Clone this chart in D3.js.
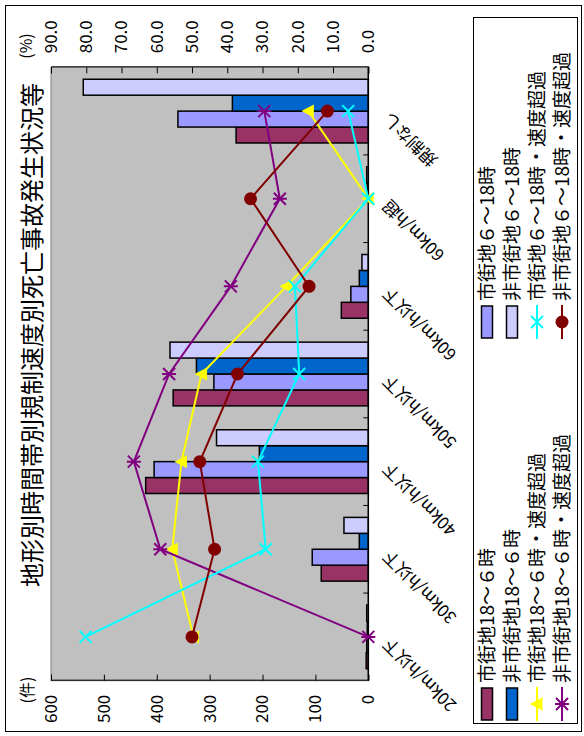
<!DOCTYPE html>
<html>
<head>
<meta charset="utf-8">
<title></title>
<style>
body { margin: 0; background: #fff; }
text { font-family: "Noto Sans CJK JP", "Noto Sans", sans-serif; fill: #000; }
</style>
</head>
<body>
<script type="text/javascript" src="https://d3js.org/d3.v7.min.js"></script>
<script>

var categories = ["20km/h以下", "30km/h以下", "40km/h以下", "50km/h以下", "60km/h以下", "60km/h超", "規制なし"];

// bar series (件)
var barNames = ["市街地18～６時", "市街地６～18時", "非市街地18～６時", "非市街地６～18時"];
var urbanNight   = [4, 89, 421, 369, 51, 0, 250];
var urbanDay     = [3, 106, 405, 292, 33, 0, 360];
var ruralNight   = [2, 17, 206, 325, 17, 2, 257];
var ruralDay     = [3, 46, 287, 375, 12, 3, 539];

// line series (%)
var lineNames = ["市街地18～６時・速度超過", "非市街地18～６時・速度超過", "市街地６～18時・速度超過", "非市街地６～18時・速度超過"];
var urbanNightSpd = [49.6, 55.6, 53.0, 47.3, 23.2, 0, 17.0];
var ruralNightSpd = [0, 59.0, 66.5, 56.5, 39.0, 25.1, 29.5];
var urbanDaySpd   = [80.2, 29.1, 31.3, 19.6, 20.8, 0, 5.7];
var ruralDaySpd   = [50.0, 43.6, 47.8, 37.1, 16.8, 33.4, 11.6];

var countTicks = [0, 100, 200, 300, 400, 500, 600];
var pctTicks = [0, 10, 20, 30, 40, 50, 60, 70, 80, 90];

var title = "地形別時間帯別規制速度別死亡事故発生状況等";

var barColors = ["#993366", "#9999ff", "#0066cc", "#ccccff"];
var lineColors = ["#ffff00", "#800080", "#00ffff", "#800000"];
var lineMarkers = ["triangle", "star", "cross", "circle"];

// chart is drawn landscape and turned a quarter to the left
var plotL = 55.3, plotR = 668.7, plotT = 51, plotB = 368.3;

var svg = d3.select("body").append("svg")
    .attr("width", 584)
    .attr("height", 736);

var g = svg.append("g")
    .attr("transform", "translate(0,736) rotate(-90)");

g.append("rect")
    .attr("x", 4.5).attr("y", 5.5)
    .attr("width", 726).attr("height", 576)
    .attr("fill", "#fff")
    .attr("stroke", "#000");

var x = d3.scaleBand()
    .domain(categories)
    .range([plotL, plotR]);

var x1 = d3.scaleBand()
    .domain(barNames)
    .range([0, x.bandwidth()])
    .paddingOuter(0.75);

var yL = d3.scaleLinear().domain([0, 600]).range([plotB, plotT]);
var yR = d3.scaleLinear().domain([0, 90]).range([plotB, plotT]);

g.append("rect")
    .attr("x", plotL).attr("y", plotT)
    .attr("width", plotR - plotL).attr("height", plotB - plotT)
    .attr("fill", "#c0c0c0")
    .attr("stroke", "#808080");

// bars (zero values drawn as nothing)
var barData = [urbanNight, urbanDay, ruralNight, ruralDay];
barData.forEach(function(vals, si) {
  var pts = vals.map(function(v, i) { return {cat: categories[i], v: v}; })
      .filter(function(d) { return d.v > 0; });
  g.append("g").selectAll("rect")
    .data(pts)
    .enter().append("rect")
    .attr("x", function(d) { return x(d.cat) + x1(barNames[si]); })
    .attr("y", function(d) { return yL(d.v); })
    .attr("width", x1.bandwidth())
    .attr("height", function(d) { return plotB - yL(d.v); })
    .attr("fill", barColors[si])
    .attr("stroke", "#000")
    .attr("stroke-width", 1.5);
});

// axes
var axisL = g.append("g")
    .attr("transform", "translate(" + plotL + ",0)")
    .call(d3.axisLeft(yL).tickValues(countTicks).tickSize(-6).tickPadding(14));

var axisR = g.append("g")
    .attr("transform", "translate(" + plotR + ",0)")
    .call(d3.axisRight(yR).tickValues(pctTicks).tickSize(-6).tickPadding(14)
      .tickFormat(d3.format(".1f")));

[axisL, axisR].forEach(function(a) {
  a.select(".domain").attr("stroke", "#000");
  a.selectAll("text")
    .style("font-family", "'Noto Sans CJK JP', sans-serif")
    .style("font-size", "17px");
});

// category axis
g.append("line")
    .attr("x1", plotL).attr("x2", plotR)
    .attr("y1", plotB).attr("y2", plotB)
    .attr("stroke", "#000")
    .attr("stroke-width", 1.5);

g.append("g").selectAll("line")
    .data(categories.slice(1))
    .enter().append("line")
    .attr("x1", function(d) { return x(d); })
    .attr("x2", function(d) { return x(d); })
    .attr("y1", plotB)
    .attr("y2", plotB - 5)
    .attr("stroke", "#000");

g.append("g").selectAll("text")
    .data(categories)
    .enter().append("text")
    .attr("transform", function(d) {
      return "translate(" + (x(d) + x.bandwidth() / 2) + "," + (plotB + 22) + ") rotate(-45)";
    })
    .attr("text-anchor", "end")
    .style("font-size", "17px")
    .text(function(d) { return d; });

// lines
function marker(sel, type, color) {
  if (type == "circle") {
    sel.append("circle").attr("r", 6.5).attr("fill", color);
  } else if (type == "triangle") {
    sel.append("path").attr("d", "M0,-7L6.5,5.5L-6.5,5.5Z").attr("fill", color);
  } else if (type == "cross") {
    sel.append("path").attr("d", "M-6,-6L6,6M-6,6L6,-6")
      .attr("stroke", color).attr("stroke-width", 2).attr("fill", "none");
  } else {
    sel.append("path").attr("d", "M-6,-6L6,6M-6,6L6,-6M0,-7L0,7")
      .attr("stroke", color).attr("stroke-width", 2).attr("fill", "none");
  }
}

var lineData = [urbanNightSpd, ruralNightSpd, urbanDaySpd, ruralDaySpd];
var line = d3.line()
    .x(function(d, i) { return x(categories[i]) + x.bandwidth() / 2; })
    .y(function(d) { return yR(d); });

lineData.forEach(function(vals, si) {
  g.append("path")
    .attr("d", line(vals))
    .attr("fill", "none")
    .attr("stroke", lineColors[si])
    .attr("stroke-width", 2);
  g.append("g").selectAll("g")
    .data(vals)
    .enter().append("g")
    .attr("transform", function(d, i) {
      return "translate(" + (x(categories[i]) + x.bandwidth() / 2) + "," + yR(d) + ")";
    })
    .each(function() { marker(d3.select(this), lineMarkers[si], lineColors[si]); });
});

// titles
g.append("text")
    .attr("x", 401).attr("y", 41)
    .attr("text-anchor", "middle")
    .style("font-size", "24px")
    .text(title);

g.append("text")
    .attr("x", 46).attr("y", 33)
    .attr("text-anchor", "middle")
    .style("font-size", "16px")
    .text("(件)");

g.append("text")
    .attr("x", 690).attr("y", 32)
    .attr("text-anchor", "middle")
    .style("font-size", "16px")
    .text("(%)");

// legend
g.append("rect")
    .attr("x", 12.5).attr("y", 473.5)
    .attr("width", 706).attr("height", 104)
    .attr("fill", "#fff")
    .attr("stroke", "#000");

var legendItems = [
  {name: barNames[0], kind: "bar", color: barColors[0], col: 0, row: 0},
  {name: barNames[2], kind: "bar", color: barColors[2], col: 0, row: 1},
  {name: lineNames[0], kind: "line", color: lineColors[0], m: lineMarkers[0], col: 0, row: 2},
  {name: lineNames[1], kind: "line", color: lineColors[1], m: lineMarkers[1], col: 0, row: 3},
  {name: barNames[1], kind: "bar", color: barColors[1], col: 1, row: 0},
  {name: barNames[3], kind: "bar", color: barColors[3], col: 1, row: 1},
  {name: lineNames[2], kind: "line", color: lineColors[2], m: lineMarkers[2], col: 1, row: 2},
  {name: lineNames[3], kind: "line", color: lineColors[3], m: lineMarkers[3], col: 1, row: 3}
];

var colX = [15, 397];

var leg = g.append("g").selectAll("g")
    .data(legendItems)
    .enter().append("g")
    .attr("transform", function(d) { return "translate(" + colX[d.col] + "," + (487 + d.row * 25) + ")"; });

leg.each(function(d) {
  var s = d3.select(this);
  if (d.kind == "bar") {
    s.append("rect")
      .attr("x", 1).attr("y", -5.5)
      .attr("width", 32).attr("height", 11)
      .attr("fill", d.color)
      .attr("stroke", "#000")
      .attr("stroke-width", 1.5);
  } else {
    s.append("line")
      .attr("x1", 0).attr("x2", 34)
      .attr("stroke", d.color)
      .attr("stroke-width", 2);
    var mg = s.append("g").attr("transform", "translate(17,0)");
    marker(mg, d.m, d.color);
  }
  s.append("text")
    .attr("x", 38)
    .attr("dy", "0.36em")
    .style("font-size", "19px")
    .text(d.name);
});

</script>
</body>
</html>
